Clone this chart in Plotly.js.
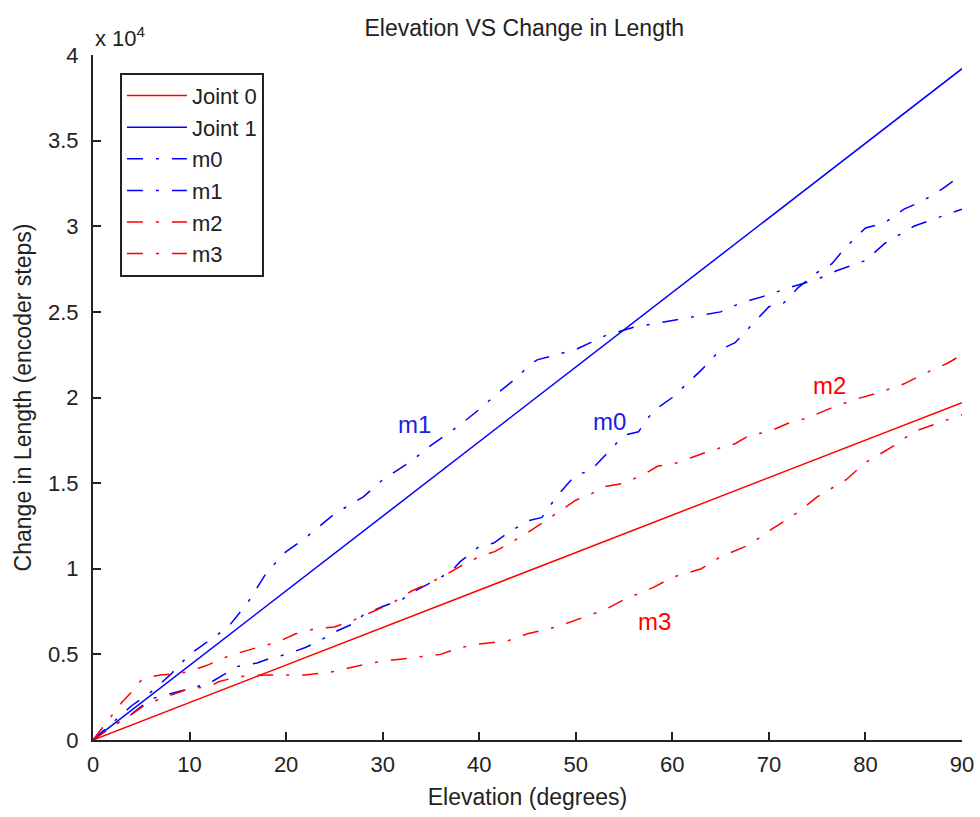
<!DOCTYPE html>
<html>
<head>
<meta charset="utf-8">
<script src="https://cdn.plot.ly/plotly-3.0.1.min.js"></script>
<style>html,body{margin:0;padding:0;background:#fff;}#chart{width:980px;height:817px;}</style>
</head>
<body>
<div id="chart"></div>
<script>
// values in units of 10^4 encoder steps
const jointX = [0, 90];
const joint0Y = [0, 1.97];
const joint1Y = [0, 3.92];

const m0X = [0, 2, 3.5, 6, 8, 10, 12, 13.5, 15, 17, 18.5, 20, 22, 23.5, 25, 27, 28, 30, 32, 33, 35, 37, 38, 40, 41.5, 43, 45, 46.5, 48, 50, 51.5, 53, 55, 56.5, 58, 60, 61.5, 63, 65, 66.5, 68, 70, 71.5, 73, 75, 76.5, 78, 80, 82, 84, 86, 88, 90];
const m0Y = [0, 0.08, 0.13, 0.24, 0.27, 0.3, 0.33, 0.38, 0.43, 0.45, 0.48, 0.5, 0.54, 0.58, 0.63, 0.68, 0.73, 0.78, 0.82, 0.86, 0.92, 0.98, 1.04, 1.13, 1.15, 1.21, 1.28, 1.3, 1.42, 1.55, 1.57, 1.66, 1.78, 1.8, 1.92, 2.0, 2.08, 2.16, 2.28, 2.32, 2.41, 2.53, 2.55, 2.64, 2.73, 2.78, 2.88, 2.99, 3.02, 3.1, 3.15, 3.22, 3.3];

const m1X = [0, 2, 4, 6, 8, 10, 12, 14, 16, 18, 20, 22, 25, 28, 30, 33, 35, 38, 40, 42, 44, 45, 46, 48, 50, 53, 56, 58, 60, 63, 65, 67, 70, 72, 75, 77, 80, 82, 85, 87, 90];
const m1Y = [0, 0.1, 0.2, 0.28, 0.38, 0.5, 0.58, 0.66, 0.8, 0.98, 1.1, 1.18, 1.32, 1.42, 1.52, 1.63, 1.72, 1.84, 1.93, 2.03, 2.12, 2.18, 2.22, 2.25, 2.28, 2.36, 2.41, 2.43, 2.45, 2.48, 2.5, 2.55, 2.6, 2.64, 2.69, 2.74, 2.8, 2.9, 3.0, 3.04, 3.1];

const m2X = [0, 2, 3, 4, 5, 6, 7, 9, 10, 12, 14, 17, 19, 21, 23, 25, 27, 29, 31, 33, 35, 37, 38.5, 40, 41.6, 43.5, 45, 46.6, 48.4, 50, 51.7, 53, 55, 57, 58.5, 60, 62, 64, 66.5, 68, 70, 72, 74, 76.5, 79, 81.5, 84, 86.5, 88.5, 90];
const m2Y = [0, 0.15, 0.22, 0.28, 0.35, 0.37, 0.38, 0.39, 0.4, 0.44, 0.49, 0.54, 0.57, 0.62, 0.65, 0.66, 0.7, 0.75, 0.8, 0.87, 0.92, 0.98, 1.03, 1.07, 1.1, 1.16, 1.21, 1.27, 1.34, 1.4, 1.44, 1.48, 1.5, 1.55, 1.6, 1.61, 1.65, 1.69, 1.73, 1.78, 1.8, 1.85, 1.88, 1.94, 1.99, 2.03, 2.08, 2.15, 2.2, 2.25];

const m3X = [0, 2, 4, 5.5, 7, 9, 10, 12, 13, 15, 18, 20, 22, 25, 28, 30, 33, 36, 38, 40, 43, 45, 48, 50, 53, 55, 58, 60, 63, 65, 68, 70, 73, 75, 78, 80, 83, 85, 88, 90];
const m3Y = [0, 0.08, 0.15, 0.21, 0.24, 0.28, 0.3, 0.31, 0.34, 0.37, 0.38, 0.38, 0.38, 0.4, 0.44, 0.46, 0.48, 0.5, 0.54, 0.56, 0.58, 0.62, 0.66, 0.7, 0.76, 0.82, 0.89, 0.95, 1.0, 1.07, 1.14, 1.22, 1.33, 1.42, 1.52, 1.62, 1.72, 1.8, 1.86, 1.9];

const xTicks = [0, 10, 20, 30, 40, 50, 60, 70, 80, 90];
const yTicks = [0, 0.5, 1, 1.5, 2, 2.5, 3, 3.5, 4];

const labelNames = ['m1', 'm0', 'm2', 'm3'];
const labelX = [33.3, 53.5, 76.3, 58.2];
const labelY = [1.84, 1.86, 2.07, 0.69];

const RED = '#ff0000', BLUE = '#0000ff';
const DD = '16px,13px,3px,13px';
const FAM = 'Liberation Sans, Arial, sans-serif';

const traces = [
  {x: jointX, y: joint0Y, name: 'Joint 0', mode: 'lines', line: {color: RED, width: 1.5}},
  {x: jointX, y: joint1Y, name: 'Joint 1', mode: 'lines', line: {color: BLUE, width: 1.5}},
  {x: m0X, y: m0Y, name: 'm0', mode: 'lines', line: {color: BLUE, width: 1.5, dash: DD}},
  {x: m1X, y: m1Y, name: 'm1', mode: 'lines', line: {color: BLUE, width: 1.5, dash: DD}},
  {x: m2X, y: m2Y, name: 'm2', mode: 'lines', line: {color: RED, width: 1.5, dash: DD}},
  {x: m3X, y: m3Y, name: 'm3', mode: 'lines', line: {color: RED, width: 1.5, dash: DD}}
];

const labelColors = ['#2020e0', '#2020e0', RED, RED];
const annotations = labelNames.map((t, i) => ({
  x: labelX[i], y: labelY[i], xref: 'x', yref: 'y', text: t, showarrow: false,
  font: {family: FAM, size: 24, color: labelColors[i]}
}));
annotations.push({
  xref: 'paper', yref: 'paper', x: 0, y: 1, xanchor: 'left', yanchor: 'bottom', yshift: 2,
  text: 'x 10<sup>4</sup>', showarrow: false,
  font: {family: FAM, size: 22, color: '#222'}
});

const tickFont = {family: FAM, size: 22, color: '#222'};
const titleFont = {family: FAM, size: 23, color: '#222'};

const layout = {
  width: 980, height: 817,
  margin: {l: 93, r: 18, t: 55, b: 77},
  paper_bgcolor: '#fff', plot_bgcolor: '#fff',
  font: tickFont,
  title: {text: 'Elevation VS Change in Length', x: 0.535, xanchor: 'center', y: 0.966, yanchor: 'middle',
          font: titleFont},
  xaxis: {
    range: [0, 90], tickvals: xTicks, ticktext: xTicks.map(String),
    showgrid: false, zeroline: false, showline: true, linecolor: '#222', linewidth: 2,
    ticks: 'inside', ticklen: 8, tickwidth: 2, tickcolor: '#222', tickfont: tickFont,
    ticklabelstandoff: 4,
    title: {text: 'Elevation (degrees)', font: titleFont, standoff: 12}
  },
  yaxis: {
    range: [0, 4], tickvals: yTicks, ticktext: yTicks.map(String),
    showgrid: false, zeroline: false, showline: true, linecolor: '#222', linewidth: 2,
    ticks: 'inside', ticklen: 8, tickwidth: 2, tickcolor: '#222', tickfont: tickFont,
    ticklabelstandoff: 8,
    title: {text: 'Change in Length (encoder steps)', font: titleFont, standoff: 10}
  },
  legend: {
    x: 0.031, y: 0.974, xanchor: 'left', yanchor: 'top',
    bgcolor: '#fff', bordercolor: '#222', borderwidth: 2,
    font: {family: FAM, size: 22, color: '#222'},
    tracegroupgap: 0, itemwidth: 60,
    entrywidth: 195, entrywidthmode: 'pixels'
  },
  showlegend: true,
  annotations: annotations
};

Plotly.newPlot('chart', traces, layout, {displayModeBar: false, staticPlot: true});
</script>
</body>
</html>
